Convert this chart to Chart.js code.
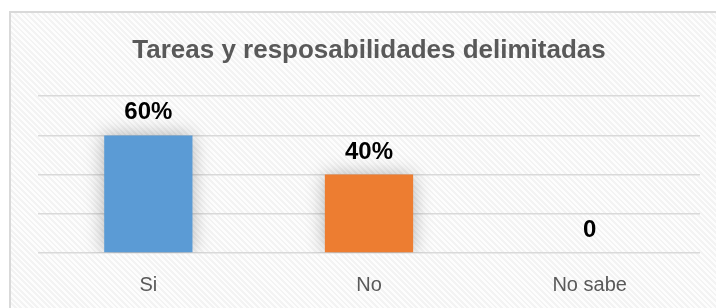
<!DOCTYPE html>
<html>
<head>
<meta charset="utf-8">
<script src="https://cdn.jsdelivr.net/npm/chart.js@4"></script>
<style>
    html, body { margin: 0; padding: 0; background: #fff; overflow: hidden; }
    #wrap { position: relative; width: 716px; height: 308px; }
    #box {
        position: absolute; left: 9px; top: 11px; right: -10px; bottom: -10px;
        border: 2px solid #d9d9d9;
        background: repeating-linear-gradient(45deg, #f3f3f3 0 2px, #fdfdfd 2px 4px);
    }
    canvas { position: absolute; left: 0; top: 0; }
</style>
</head>
<body>
<div id="wrap">
    <div id="box"></div>
    <canvas id="chart" width="716" height="308"></canvas>
</div>
<script>
const categories = ['Si', 'No', 'No sabe'];
const values = [60, 40, 0];
const valueLabels = ['60%', '40%', '0'];
const barColors = ['#5B9BD5', '#ED7D31', '#A5A5A5'];
const yTicks = [0, 20, 40, 60, 80];

// soft shadow round the bars, like the spreadsheet original
const barShadow = {
    id: 'barShadow',
    beforeDatasetDraw(chart) {
        const ctx = chart.ctx;
        ctx.save();
        ctx.shadowColor = 'rgba(0, 0, 0, 0.3)';
        ctx.shadowBlur = 18;
        ctx.shadowOffsetX = 0;
        ctx.shadowOffsetY = 0;
    },
    afterDatasetDraw(chart) {
        chart.ctx.restore();
    }
};

// value labels above each bar
const valueLabelPlugin = {
    id: 'valueLabels',
    afterDatasetsDraw(chart) {
        const ctx = chart.ctx;
        const meta = chart.getDatasetMeta(0);
        ctx.save();
        ctx.font = 'bold 24px "Liberation Sans", Arial, sans-serif';
        ctx.fillStyle = '#000';
        ctx.textAlign = 'center';
        ctx.textBaseline = 'alphabetic';
        meta.data.forEach((bar, i) => {
            ctx.fillText(valueLabels[i], bar.x, bar.y - 16);
        });
        ctx.restore();
    }
};

new Chart(document.getElementById('chart'), {
    type: 'bar',
    data: {
        labels: categories,
        datasets: [
            {
                data: values,
                backgroundColor: barColors,
                borderWidth: 0,
                barPercentage: 0.4,
                categoryPercentage: 1.0,
            },
        ],
    },
    options: {
        responsive: false,
        animation: false,
        layout: { padding: { left: 38, right: 16, top: 0, bottom: -9 } },
        plugins: {
            legend: { display: false },
            tooltip: { enabled: false },
            title: {
                display: true,
                text: 'Tareas y resposabilidades delimitadas',
                color: '#595959',
                font: { family: '"Liberation Sans", Arial, sans-serif', size: 26, weight: 'bold', lineHeight: 1.2 },
                padding: { top: 35, bottom: 30 },
            },
        },
        scales: {
            x: {
                grid: { display: false, drawTicks: false },
                border: { display: false },
                ticks: {
                    color: '#595959',
                    padding: 20,
                    font: { family: '"Liberation Sans", Arial, sans-serif', size: 20, lineHeight: 1.2 },
                },
            },
            y: {
                min: yTicks[0],
                max: yTicks[yTicks.length - 1],
                afterBuildTicks(scale) {
                    scale.ticks = yTicks.map(v => ({ value: v }));
                },
                grid: { color: '#d9d9d9', lineWidth: 1.5, drawTicks: false },
                border: { display: false },
                ticks: { display: false },
            },
        },
    },
    plugins: [barShadow, valueLabelPlugin],
});
</script>
</body>
</html>
